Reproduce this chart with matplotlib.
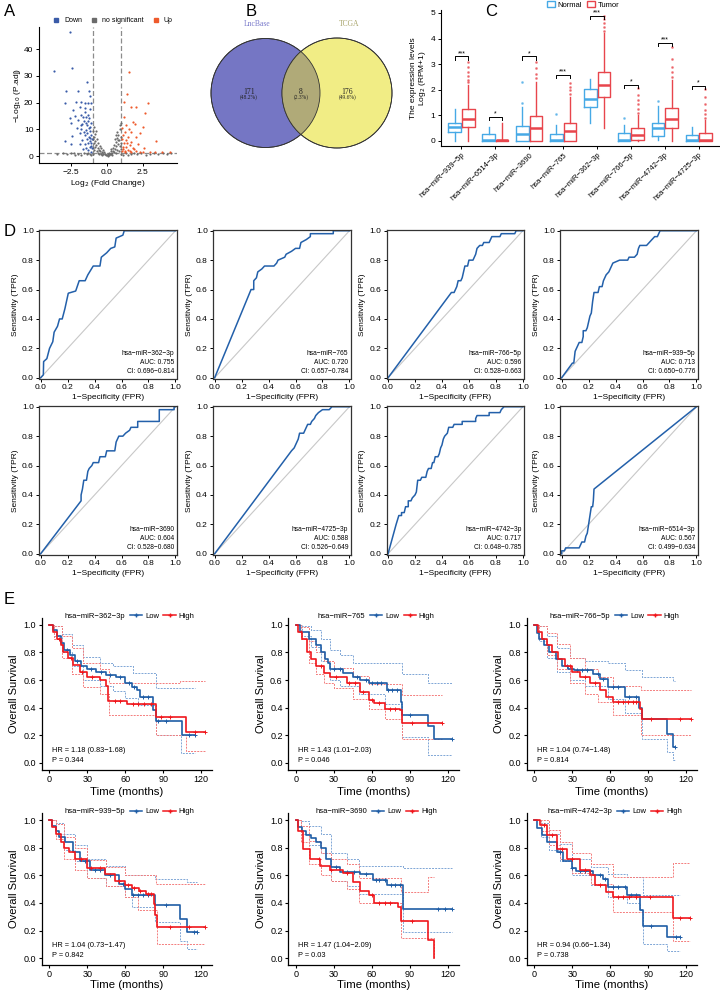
import numpy as np
import matplotlib
matplotlib.use('Agg')
import matplotlib.pyplot as plt
from matplotlib.patches import Circle, Patch
from matplotlib.lines import Line2D

plt.rcParams['font.family'] = ['Liberation Sans', 'DejaVu Sans']
plt.rcParams['axes.unicode_minus'] = True

W, H = 720, 992
fig = plt.figure(figsize=(7.2, 9.92), dpi=100)


def add_ax(left, top, width, height):
    return fig.add_axes([left / W, 1 - (top + height) / H, width / W, height / H])


def panel_label(x, y, s):
    fig.text(x / W, 1 - y / H, s, fontsize=12, ha='left', va='center')

# ---------------- Panel A data (volcano) ----------------
down_points = [(-2.56, 46.4), (-3.70, 32.0), (-2.47, 32.9), (-2.84, 24.5), (-2.02, 24.5), (-1.40, 27.9),
               (-1.26, 24.5), (-1.16, 22.5), (-2.95, 19.8), (-2.14, 20.4), (-1.79, 20.4), (-1.56, 19.8),
               (-1.33, 19.8), (-1.10, 19.8), (-2.37, 17.3), (-1.91, 18.5), (-1.56, 17.9), (-1.21, 17.5),
               (-2.26, 15.0), (-1.79, 15.4), (-1.44, 14.8), (-2.60, 14.1), (-1.26, 14.1), (-2.02, 13.5),
               (-1.63, 13.3), (-2.53, 12.3), (-1.72, 12.0), (-1.40, 11.6), (-1.10, 12.3), (-2.09, 10.4),
               (-1.79, 10.0), (-1.49, 9.8), (-1.21, 9.5), (-2.42, 7.5), (-1.91, 8.5), (-1.56, 7.9),
               (-1.26, 7.3), (-1.72, 6.0), (-1.40, 6.3), (-2.95, 5.6), (-1.91, 4.5), (-1.56, 4.5),
               (-1.33, 4.75), (-1.10, 5.0), (-2.53, 4.4), (-1.21, 3.5), (-1.49, 3.1), (-1.02, 2.9),
               (-1.33, 2.25), (-1.67, 2.5), (-1.10, 1.6), (-1.50, 16.5), (-1.30, 13.0), (-1.15, 11.0),
               (-1.40, 8.8), (-1.20, 6.8), (-1.05, 6.5), (-1.80, 11.5), (-1.60, 9.0), (-1.12, 3.8),
               (-1.35, 15.5), (-1.25, 10.5), (-1.65, 14.5), (-1.45, 12.5), (-1.08, 8.0), (-1.18, 5.6)]
up_points = [(1.51, 31.6), (1.42, 23.1), (1.16, 20.4), (1.65, 18.5), (2.00, 18.3), (2.88, 20.0),
             (2.63, 16.0), (1.16, 14.5), (1.81, 12.9), (1.30, 11.6), (1.93, 12.0), (1.07, 10.4),
             (1.53, 10.0), (2.51, 10.8), (1.23, 9.1), (1.70, 8.9), (2.28, 8.5), (1.12, 7.9),
             (1.47, 7.25), (2.05, 7.0), (1.30, 6.0), (1.70, 5.4), (1.16, 4.75), (1.58, 4.1),
             (2.16, 4.5), (3.44, 5.75), (1.35, 3.5), (1.81, 3.1), (1.12, 2.6), (1.47, 2.25),
             (2.05, 2.0), (2.51, 1.6), (2.98, 1.6), (3.33, 1.5), (3.86, 1.6), (4.42, 1.5),
             (1.23, 1.6), (1.70, 1.6), (1.05, 6.5), (1.10, 3.3), (1.25, 2.0), (1.40, 5.0),
             (1.90, 2.6), (2.60, 2.9), (1.02, 1.8), (1.60, 1.9), (2.30, 1.7)]
ns_points = [(-0.95, 9.5), (-0.90, 7.2), (-0.85, 5.5), (-0.80, 8.1), (-0.75, 4.2), (-0.70, 6.3),
             (-0.65, 3.1), (-0.60, 5.0), (-0.55, 2.4), (-0.50, 3.8), (-0.45, 1.9), (-0.40, 2.9),
             (-0.35, 1.5), (-0.30, 2.2), (-0.25, 0.9), (-0.20, 1.4), (-0.15, 0.6), (-0.10, 0.9),
             (-0.05, 0.3), (0.00, 0.5), (0.05, 0.2), (0.10, 0.8), (0.15, 1.2), (0.20, 0.6),
             (0.25, 1.8), (0.30, 2.5), (0.35, 1.1), (0.40, 3.2), (0.45, 2.0), (0.50, 4.1),
             (0.55, 2.8), (0.60, 5.2), (0.65, 3.6), (0.70, 6.8), (0.75, 4.5), (0.80, 8.0),
             (0.85, 5.9), (0.90, 10.2), (0.95, 7.1), (0.92, 11.8), (0.70, 9.0), (0.55, 6.5),
             (-0.90, 11.0), (-0.75, 9.3), (-0.98, 3.0), (-0.88, 2.2), (-0.62, 1.3), (-0.42, 0.7),
             (0.38, 0.4), (0.62, 1.0), (0.82, 1.9), (0.95, 2.7), (-0.97, 6.2), (-0.92, 4.8),
             (-0.82, 3.4), (-0.68, 2.0), (-0.58, 0.9), (-0.33, 0.4), (0.12, 0.3), (0.28, 0.9),
             (0.48, 1.5), (0.72, 2.3), (0.88, 3.9), (0.97, 5.0), (0.78, 6.0), (0.65, 7.8),
             (-3.50, 0.9), (-3.10, 1.1), (-2.80, 0.7), (-2.50, 1.0), (-2.20, 0.5), (-2.00, 0.9),
             (-1.80, 0.3), (-1.60, 1.1), (-1.40, 0.6), (-1.20, 0.9), (-1.10, 0.4), (1.10, 0.5),
             (1.30, 1.0), (1.50, 0.3), (1.70, 0.8), (1.90, 1.1), (2.10, 0.6), (2.40, 1.0),
             (2.70, 0.4), (3.00, 0.9), (3.30, 1.1), (3.60, 0.7), (3.90, 1.0), (4.20, 0.8),
             (4.50, 1.1), (-1.30, 1.2), (-2.30, 1.2), (-1.00, 0.7), (1.00, 0.9), (0.99, 12.5)]

# ---------------- Panel B data (Venn) ----------------
venn_names = ["LncBase", "TCGA"]
venn_only_left = 171
venn_both = 8
venn_only_right = 176

# ---------------- Panel C data (boxplots) ----------------
mirnas_c = ["hsa−miR−939−5p", "hsa−miR−6514−3p", "hsa−miR−3690", "hsa−miR−765",
            "hsa−miR−362−3p", "hsa−miR−766−5p", "hsa−miR−4742−3p", "hsa−miR−4725−3p"]
normal_q1 = [0.36, 0.00, 0.00, 0.00, 1.34, 0.00, 0.20, 0.00]
normal_med = [0.56, 0.03, 0.27, 0.02, 1.63, 0.03, 0.50, 0.02]
normal_q3 = [0.69, 0.26, 0.60, 0.26, 2.02, 0.30, 0.72, 0.23]
normal_lo = [0.00, 0.00, 0.00, 0.00, 0.72, 0.00, 0.04, 0.00]
normal_hi = [1.25, 0.56, 1.34, 0.62, 2.41, 0.62, 1.37, 0.56]
normal_out = [[], [], [1.48, 2.32], [1.05], [], [0.90], [1.56], []]
tumor_q1 = [0.53, 0.00, 0.00, 0.00, 1.73, 0.02, 0.52, 0.00]
tumor_med = [0.87, 0.02, 0.50, 0.39, 2.19, 0.23, 0.86, 0.02]
tumor_q3 = [1.25, 0.04, 0.99, 0.72, 2.71, 0.50, 1.28, 0.32]
tumor_lo = [0.00, 0.00, 0.00, 0.00, 0.50, 0.00, 0.00, 0.00]
tumor_hi = [2.19, 0.70, 2.32, 1.73, 4.20, 1.00, 2.38, 0.80]
tumor_out = [[2.3, 2.4, 2.55, 2.7, 2.9, 3.1], [], [2.45, 2.6, 2.85, 3.1], [1.85, 2.0, 2.1, 2.25],
             [4.3, 4.45, 4.6, 4.75, 4.9], [1.1, 1.25, 1.45, 1.6, 1.8, 2.06],
             [2.5, 2.7, 2.9, 3.2, 3.68], [0.9, 1.05, 1.2, 1.45, 1.7, 2.02]]
sig_labels = ["***", "*", "*", "***", "***", "*", "***", "*"]
sig_heights = [3.3, 0.95, 3.3, 2.58, 4.88, 2.19, 3.84, 2.15]

# ---------------- Panel D data (ROC) ----------------
roc_names = ["hsa−miR−362−3p", "hsa−miR−765", "hsa−miR−766−5p", "hsa−miR−939−5p",
             "hsa−miR−3690", "hsa−miR−4725−3p", "hsa−miR−4742−3p", "hsa−miR−6514−3p"]
roc_auc = ["0.755", "0.720", "0.596", "0.713", "0.604", "0.588", "0.717", "0.567"]
roc_ci = ["0.696−0.814", "0.657−0.784", "0.528−0.663", "0.650−0.776",
          "0.528−0.680", "0.526−0.649", "0.648−0.785", "0.499−0.634"]
roc_fpr_362 = [0, 0.02, 0.022, 0.046, 0.066, 0.09, 0.10, 0.125, 0.14, 0.16, 0.18, 0.205, 0.26, 0.286, 0.33, 0.35, 0.39, 0.44, 0.45, 0.49, 0.52, 0.55, 0.56, 0.61, 0.62, 1.0]
roc_tpr_362 = [0, 0.02, 0.11, 0.13, 0.20, 0.245, 0.31, 0.35, 0.40, 0.40, 0.47, 0.575, 0.59, 0.66, 0.66, 0.70, 0.76, 0.76, 0.82, 0.85, 0.88, 0.89, 0.95, 0.97, 1.0, 1.0]
roc_fpr_765 = [0, 0.27, 0.29, 0.29, 0.31, 0.32, 0.35, 0.37, 0.44, 0.46, 0.47, 0.52, 0.53, 0.57, 0.60, 0.63, 0.64, 0.68, 0.71, 0.71, 0.88, 0.88, 1.0]
roc_tpr_765 = [0, 0.60, 0.60, 0.66, 0.68, 0.72, 0.74, 0.76, 0.76, 0.78, 0.80, 0.82, 0.84, 0.86, 0.88, 0.88, 0.92, 0.94, 0.96, 0.98, 0.98, 1.0, 1.0]
roc_fpr_766 = [0, 0.47, 0.49, 0.50, 0.51, 0.52, 0.54, 0.55, 0.56, 0.57, 0.59, 0.60, 0.63, 0.65, 0.66, 0.68, 0.70, 0.71, 0.75, 0.77, 0.83, 0.84, 0.94, 0.95, 1.0]
roc_tpr_766 = [0, 0.58, 0.58, 0.60, 0.62, 0.66, 0.66, 0.68, 0.72, 0.76, 0.76, 0.80, 0.80, 0.84, 0.88, 0.90, 0.90, 0.92, 0.92, 0.96, 0.96, 0.98, 0.98, 1.0, 1.0]
roc_fpr_939 = [0, 0.08, 0.09, 0.10, 0.11, 0.12, 0.13, 0.15, 0.16, 0.16, 0.18, 0.19, 0.20, 0.21, 0.22, 0.23, 0.24, 0.27, 0.28, 0.30, 0.31, 0.33, 0.35, 0.37, 0.38, 0.43, 0.49, 0.50, 0.54, 0.56, 0.57, 0.58, 0.63, 0.65, 0.67, 0.69, 0.71, 0.73, 1.0]
roc_tpr_939 = [0, 0.10, 0.10, 0.18, 0.20, 0.22, 0.24, 0.24, 0.28, 0.32, 0.32, 0.34, 0.38, 0.42, 0.44, 0.52, 0.58, 0.58, 0.62, 0.62, 0.66, 0.70, 0.72, 0.76, 0.78, 0.80, 0.80, 0.82, 0.82, 0.84, 0.88, 0.90, 0.90, 0.92, 0.94, 0.96, 0.96, 1.0, 1.0]
roc_fpr_3690 = [0, 0.30, 0.30, 0.31, 0.32, 0.34, 0.35, 0.36, 0.38, 0.39, 0.43, 0.44, 0.48, 0.49, 0.55, 0.56, 0.58, 0.61, 0.63, 0.66, 0.67, 0.72, 0.72, 0.88, 0.88, 0.99, 0.99, 1.0]
roc_tpr_3690 = [0, 0.36, 0.40, 0.44, 0.50, 0.50, 0.56, 0.58, 0.60, 0.62, 0.62, 0.66, 0.66, 0.70, 0.70, 0.76, 0.80, 0.80, 0.82, 0.84, 0.86, 0.86, 0.90, 0.90, 0.98, 0.98, 1.0, 1.0]
roc_fpr_4725 = [0, 0.57, 0.59, 0.60, 0.61, 0.62, 0.63, 0.66, 0.67, 0.69, 0.71, 0.72, 0.74, 0.75, 0.77, 0.80, 0.85, 0.87, 1.0]
roc_tpr_4725 = [0, 0.70, 0.72, 0.74, 0.76, 0.78, 0.82, 0.82, 0.84, 0.88, 0.88, 0.90, 0.92, 0.94, 0.96, 0.98, 0.98, 1.0, 1.0]
roc_fpr_4742 = [0, 0.03, 0.06, 0.08, 0.10, 0.10, 0.12, 0.13, 0.15, 0.15, 0.17, 0.18, 0.20, 0.21, 0.22, 0.24, 0.25, 0.28, 0.29, 0.30, 0.32, 0.33, 0.34, 0.35, 0.37, 0.38, 0.39, 0.40, 0.41, 0.42, 0.44, 0.45, 0.48, 0.49, 0.55, 0.55, 0.65, 0.65, 0.66, 0.75, 0.75, 0.83, 0.84, 0.86, 1.0]
roc_tpr_4742 = [0, 0.10, 0.20, 0.26, 0.26, 0.28, 0.28, 0.32, 0.32, 0.36, 0.36, 0.38, 0.40, 0.42, 0.50, 0.50, 0.52, 0.52, 0.56, 0.58, 0.58, 0.62, 0.62, 0.66, 0.66, 0.68, 0.72, 0.74, 0.78, 0.80, 0.82, 0.86, 0.86, 0.88, 0.88, 0.90, 0.90, 0.92, 0.94, 0.94, 0.96, 0.96, 0.98, 1.0, 1.0]
roc_fpr_6514 = [0, 0, 0.02, 0.03, 0.13, 0.14, 0.15, 0.17, 0.18, 0.19, 0.20, 0.21, 0.22, 0.23, 0.235, 0.24, 1.0]
roc_tpr_6514 = [0, 0.02, 0.02, 0.04, 0.04, 0.06, 0.08, 0.08, 0.12, 0.14, 0.20, 0.26, 0.32, 0.32, 0.36, 0.44, 1.0]

# ---------------- Panel E data (Kaplan-Meier) ----------------
km_names = ["hsa−miR−362−3p", "hsa−miR−765", "hsa−miR−766−5p",
            "hsa−miR−939−5p", "hsa−miR−3690", "hsa−miR−4742−3p"]
km_hr = ["HR = 1.18 (0.83−1.68)", "HR = 1.43 (1.01−2.03)", "HR = 1.04 (0.74−1.48)",
         "HR = 1.04 (0.73−1.47)", "HR = 1.47 (1.04−2.09)", "HR = 0.94 (0.66−1.34)"]
km_p = ["P = 0.344", "P = 0.046", "P = 0.814", "P = 0.842", "P = 0.03", "P = 0.738"]

# 362-3p
km362_low_t = [0, 3, 6, 9, 12, 16, 20, 25, 30, 37, 45, 53, 60, 65, 69, 72, 82, 84, 104.5]
km362_low_s = [1.0, 0.96, 0.92, 0.87, 0.82, 0.78, 0.74, 0.70, 0.68, 0.66, 0.635, 0.62, 0.575, 0.55, 0.527, 0.478, 0.38, 0.305, 0.2]
km362_low_end = 115
km362_high_t = [0, 3, 6, 9, 11, 15, 19, 24, 29.5, 40, 45, 46.6, 61, 84.5, 108]
km362_high_s = [1.0, 0.95, 0.9, 0.85, 0.80, 0.76, 0.71, 0.66, 0.62, 0.60, 0.56, 0.45, 0.425, 0.335, 0.225]
km362_high_end = 123
km362_low_up_t = [0, 4, 10, 18, 27, 40, 50, 66, 84]
km362_low_up_s = [1.0, 0.99, 0.93, 0.85, 0.77, 0.72, 0.70, 0.65, 0.54]
km362_low_lo_t = [0, 4, 10, 18, 27, 40, 50, 60, 70, 84, 104]
km362_low_lo_s = [1.0, 0.92, 0.80, 0.70, 0.60, 0.56, 0.52, 0.47, 0.42, 0.2, 0.075]
km362_high_up_t = [0, 4, 10, 18, 27, 40, 47, 56, 103]
km362_high_up_s = [1.0, 0.99, 0.92, 0.83, 0.72, 0.68, 0.58, 0.575, 0.59]
km362_high_lo_t = [0, 4, 10, 18, 27, 40, 47, 84, 108]
km362_high_lo_s = [1.0, 0.90, 0.76, 0.64, 0.55, 0.50, 0.345, 0.2, 0.09]
km362_low_cens = [14, 22, 33, 41, 48, 56, 63, 67, 74, 78, 86, 92, 110, 115]
km362_high_cens = [8, 17, 26, 34, 52, 56, 66, 70, 75, 80, 88, 95, 115, 123]

# 765
km765_low_t = [0, 3, 10, 16, 20, 23, 25, 27, 37, 45, 50.5, 58, 71.6, 82.6, 84, 104.5, 109]
km765_low_s = [1.0, 0.95, 0.9, 0.85, 0.8, 0.75, 0.72, 0.68, 0.65, 0.62, 0.6, 0.575, 0.53, 0.44, 0.35, 0.265, 0.176]
km765_low_end = 123
km765_high_t = [0, 2, 5, 9, 12, 16, 22, 27, 40, 50.5, 58, 62, 70, 82, 83.4]
km765_high_s = [1.0, 0.95, 0.9, 0.8, 0.75, 0.7, 0.65, 0.62, 0.575, 0.515, 0.455, 0.435, 0.39, 0.38, 0.29]
km765_high_end = 115
km765_low_up_t = [0, 5, 12, 20, 27, 35, 45, 84, 104.5]
km765_low_up_s = [1.0, 0.99, 0.96, 0.9, 0.82, 0.78, 0.72, 0.647, 0.575]
km765_low_lo_t = [0, 5, 12, 20, 27, 35, 50, 70, 84, 104.5]
km765_low_lo_s = [1.0, 0.92, 0.84, 0.74, 0.60, 0.56, 0.50, 0.43, 0.19, 0.055]
km765_high_up_t = [0, 4, 10, 16, 22, 30, 45, 58, 84]
km765_high_up_s = [1.0, 0.98, 0.88, 0.80, 0.74, 0.69, 0.63, 0.57, 0.49]
km765_high_lo_t = [0, 4, 10, 16, 22, 30, 45, 58, 70, 84]
km765_high_lo_s = [1.0, 0.90, 0.72, 0.64, 0.58, 0.54, 0.46, 0.39, 0.32, 0.17]
km765_low_cens = [30, 35, 48, 55, 60, 64, 67, 73, 76, 80, 90, 123]
km765_high_cens = [20, 32, 42, 47, 53, 60, 66, 74, 78, 92, 115]

# 766-5p
km766_low_t = [0, 2, 4, 8, 12, 17, 22, 27, 31, 46.6, 52, 58, 71.6, 83, 84.7, 104.5, 109.7]
km766_low_s = [1.0, 0.94, 0.9, 0.85, 0.8, 0.75, 0.7, 0.68, 0.67, 0.647, 0.61, 0.55, 0.478, 0.4, 0.32, 0.21, 0.116]
km766_low_end = 111
km766_high_t = [0, 3, 6, 10, 14, 19, 24, 30, 36, 44, 52, 57, 62, 83.4, 85]
km766_high_s = [1.0, 0.95, 0.9, 0.85, 0.8, 0.75, 0.7, 0.66, 0.62, 0.575, 0.527, 0.478, 0.44, 0.39, 0.32]
km766_high_end = 124
km766_low_up_t = [0, 4, 10, 18, 28, 40, 58, 71.6, 84.7, 109.7]
km766_low_up_s = [1.0, 0.99, 0.92, 0.83, 0.76, 0.74, 0.72, 0.67, 0.62, 0.59]
km766_low_lo_t = [0, 4, 10, 18, 28, 40, 58, 71.6, 84.7, 104.5, 109.7]
km766_low_lo_s = [1.0, 0.88, 0.76, 0.66, 0.60, 0.56, 0.46, 0.36, 0.176, 0.08, 0.02]
km766_high_up_t = [0, 4, 10, 18, 28, 40, 50, 62, 84]
km766_high_up_s = [1.0, 0.99, 0.94, 0.86, 0.76, 0.68, 0.62, 0.56, 0.53]
km766_high_lo_t = [0, 4, 10, 18, 28, 40, 50, 62, 84]
km766_high_lo_s = [1.0, 0.90, 0.78, 0.68, 0.58, 0.50, 0.44, 0.345, 0.2]
km766_low_cens = [26, 34, 38, 42, 50, 54, 62, 66, 75, 80, 111]
km766_high_cens = [28, 40, 48, 66, 70, 74, 78, 80, 92, 115, 124]

# 939-5p
km939_low_t = [0, 2, 5, 8, 12.6, 19, 24.5, 32, 44, 55, 60, 65, 83.7, 103.4, 108.7]
km939_low_s = [1.0, 0.96, 0.92, 0.88, 0.84, 0.77, 0.70, 0.637, 0.60, 0.54, 0.50, 0.46, 0.383, 0.286, 0.19]
km939_low_end = 116.6
km939_high_t = [0, 2, 5, 9, 12, 15.3, 20.5, 30, 44, 52, 60, 65, 70.5, 76, 82.4, 83.7, 85]
km939_high_s = [1.0, 0.95, 0.9, 0.84, 0.80, 0.77, 0.72, 0.65, 0.61, 0.56, 0.53, 0.51, 0.49, 0.467, 0.395, 0.31, 0.225]
km939_high_end = 123
km939_low_up_t = [0, 5, 12, 20, 30, 45, 60, 83.7, 108.7]
km939_low_up_s = [1.0, 0.98, 0.90, 0.82, 0.72, 0.67, 0.60, 0.576, 0.55]
km939_low_lo_t = [0, 5, 12, 20, 30, 45, 60, 65, 83.7, 103.4, 108.7]
km939_low_lo_s = [1.0, 0.90, 0.78, 0.70, 0.58, 0.52, 0.44, 0.37, 0.26, 0.128, 0.068]
km939_high_up_t = [0, 5, 12, 20, 30, 45, 60, 84]
km939_high_up_s = [1.0, 0.97, 0.88, 0.80, 0.71, 0.66, 0.60, 0.54]
km939_high_lo_t = [0, 5, 12, 20, 30, 45, 60, 70, 85]
km939_high_lo_s = [1.0, 0.86, 0.72, 0.64, 0.58, 0.52, 0.44, 0.346, 0.104]
km939_low_cens = [28, 36, 40, 48, 58, 66, 70, 74, 78, 92, 114, 116.6]
km939_high_cens = [25, 33, 40, 55, 62, 67, 72, 78, 80, 95, 110, 123]

# 3690
km3690_low_t = [0, 2, 5, 8, 12, 16, 20, 24, 28, 35, 50.5, 61, 71.6, 84.7]
km3690_low_s = [1.0, 0.95, 0.92, 0.89, 0.87, 0.84, 0.80, 0.72, 0.66, 0.625, 0.61, 0.564, 0.53, 0.354]
km3690_low_end = 123
km3690_high_t = [0, 2, 5.8, 11, 19, 27, 37, 45, 50.5, 58, 62, 80.8, 83, 104.5, 109]
km3690_high_s = [1.0, 0.92, 0.79, 0.72, 0.67, 0.637, 0.62, 0.55, 0.49, 0.455, 0.40, 0.37, 0.266, 0.133, 0.0]
km3690_high_end = 109
km3690_low_up_t = [0, 4, 10, 20, 28, 40, 50, 84.7]
km3690_low_up_s = [1.0, 0.99, 0.96, 0.90, 0.76, 0.72, 0.67, 0.656]
km3690_low_lo_t = [0, 4, 10, 20, 28, 40, 50, 84.7]
km3690_low_lo_s = [1.0, 0.90, 0.82, 0.76, 0.56, 0.52, 0.467, 0.19]
km3690_high_up_t = [0, 4, 10, 20, 28, 40, 50, 83, 104.5]
km3690_high_up_s = [1.0, 0.96, 0.85, 0.76, 0.72, 0.68, 0.58, 0.48, 0.59]
km3690_high_lo_t = [0, 4, 10, 20, 28, 40, 50, 83, 109]
km3690_high_lo_s = [1.0, 0.84, 0.68, 0.60, 0.56, 0.50, 0.40, 0.15, 0.0]
km3690_low_cens = [32, 40, 46, 55, 63, 66, 70, 75, 78, 82, 112, 118, 123]
km3690_high_cens = [18, 28, 40, 60, 66, 70, 74, 92]

# 4742-3p
km4742_low_t = [0, 2, 6, 10, 17.6, 23, 29.5, 33, 46.6, 54.5, 58, 73, 83.4, 86, 104.5]
km4742_low_s = [1.0, 0.94, 0.89, 0.84, 0.77, 0.70, 0.65, 0.63, 0.60, 0.576, 0.515, 0.46, 0.346, 0.232, 0.153]
km4742_low_end = 115
km4742_high_t = [0, 4.5, 10, 17.6, 25.5, 36, 44, 48, 57, 62, 109.7]
km4742_high_s = [1.0, 0.964, 0.89, 0.79, 0.72, 0.637, 0.605, 0.53, 0.48, 0.443, 0.293]
km4742_high_end = 123
km4742_low_up_t = [0, 5, 12, 20, 30, 45, 58, 73, 86]
km4742_low_up_s = [1.0, 0.98, 0.90, 0.83, 0.72, 0.66, 0.61, 0.59, 0.455]
km4742_low_lo_t = [0, 5, 12, 20, 30, 45, 58, 73, 83.4, 86, 104.5]
km4742_low_lo_s = [1.0, 0.88, 0.78, 0.70, 0.60, 0.53, 0.44, 0.40, 0.346, 0.104, 0.056]
km4742_high_up_t = [0, 5, 12, 20, 30, 45, 62, 109.7]
km4742_high_up_s = [1.0, 1.0, 0.93, 0.84, 0.76, 0.68, 0.59, 0.69]
km4742_high_lo_t = [0, 5, 12, 20, 30, 45, 62, 109.7]
km4742_high_lo_s = [1.0, 0.92, 0.82, 0.72, 0.62, 0.54, 0.334, 0.128]
km4742_low_cens = [20, 30, 36, 40, 44, 52, 56, 62, 66, 72, 76, 80, 92, 112, 115]
km4742_high_cens = [8, 14, 22, 30, 40, 52, 66, 70, 75, 80, 91, 115, 123]

# ======================= DRAWING =======================
BLUE_A, GREY_A, RED_A = "#3A5BA8", "#6B6B6B", "#EE5A2C"

# ---------- Panel A ----------
panel_label(4, 12, "A")
axA = add_ax(39, 27, 138, 136)
for pts, col in [(ns_points, GREY_A), (down_points, BLUE_A), (up_points, RED_A)]:
    arr = np.array(pts)
    axA.scatter(arr[:, 0], arr[:, 1], s=2.5, color=col, linewidths=0, zorder=3)
for xv in (-1, 1):
    axA.axvline(xv, color="#8C8C8C", lw=0.9, dashes=(4, 2), zorder=2)
axA.axhline(-np.log10(0.05), color="#8C8C8C", lw=0.9, dashes=(4, 2), zorder=2)
axA.set_xlim(-4.75, 4.9)
axA.set_ylim(-2.6, 48.3)
axA.set_xticks([-2.5, 0, 2.5])
axA.set_xticklabels(["−2.5", "0.0", "2.5"])
axA.set_yticks([0, 10, 20, 30, 40])
for s in ("top", "right"):
    axA.spines[s].set_visible(False)
for s in ("left", "bottom"):
    axA.spines[s].set_linewidth(0.8)
axA.tick_params(labelsize=6, length=2.5, width=0.7, pad=1.5)
axA.set_xlabel("Log$_2$ (Fold Change)", fontsize=6, labelpad=2)
axA.set_ylabel("−Log$_{10}$ (P.adj)", fontsize=6, labelpad=1)
legA = [Line2D([], [], marker='s', ls='', color=c, markersize=3.5) for c in (BLUE_A, GREY_A, RED_A)]
fig.legend(legA, ["Down", "no significant", "Up"], loc='center', bbox_to_anchor=(111 / W, 1 - 21 / H),
           ncol=3, frameon=False, fontsize=5, handletextpad=0.1, columnspacing=0.8, borderpad=0)

# ---------- Panel B ----------
panel_label(246, 12, "B")
axB = add_ax(200, 10, 210, 160)
axB.set_xlim(200, 410)
axB.set_ylim(170, 10)
axB.set_aspect('equal')
axB.axis('off')
cL = Circle((265.5, 93), 54.5, facecolor="#7576C4", edgecolor="#333333", lw=0.6, zorder=1)
cR = Circle((337, 93), 55, facecolor="#F1ED85", edgecolor="#333333", lw=0.6, zorder=1)
axB.add_patch(cL)
axB.add_patch(cR)
cI = Circle((337, 93), 55, facecolor="#B0AA78", edgecolor="none", zorder=2)
axB.add_patch(cI)
cI.set_clip_path(cL)
axB.add_patch(Circle((265.5, 93), 54.5, facecolor="none", edgecolor="#333333", lw=0.6, zorder=3))
axB.add_patch(Circle((337, 93), 55, facecolor="none", edgecolor="#333333", lw=0.6, zorder=3))
total = venn_only_left + venn_both + venn_only_right
serif = ['Liberation Serif', 'DejaVu Serif']
for xv, n in [(249, venn_only_left), (301, venn_both), (347.5, venn_only_right)]:
    axB.text(xv, 92, str(n), ha='center', va='center', fontsize=5.5, family=serif, color="#222222", zorder=4)
    axB.text(xv, 97.5, "(%.1f%%)" % (100 * n / total), ha='center', va='center', fontsize=4,
             family=serif, color="#222222", zorder=4)
axB.text(257, 24, venn_names[0], ha='center', va='center', fontsize=5.5, family=serif, color="#7A7ACB")
axB.text(349, 24, venn_names[1], ha='center', va='center', fontsize=5.5, family=serif, color="#A8A46A")

# ---------- Panel C ----------
panel_label(485, 12, "C")
axC = add_ax(441, 10.4, 278, 135.7)
NCOL, TCOL = "#46A9E6", "#E8454C"
pos = np.arange(1, len(mirnas_c) + 1)
nstats = [dict(med=normal_med[i], q1=normal_q1[i], q3=normal_q3[i], whislo=normal_lo[i],
               whishi=normal_hi[i], fliers=normal_out[i]) for i in range(len(mirnas_c))]
tstats = [dict(med=tumor_med[i], q1=tumor_q1[i], q3=tumor_q3[i], whislo=tumor_lo[i],
               whishi=tumor_hi[i], fliers=tumor_out[i]) for i in range(len(mirnas_c))]
for stats, off, col in [(nstats, -0.2, NCOL), (tstats, 0.2, TCOL)]:
    axC.bxp(stats, positions=pos + off, widths=0.37, showcaps=False,
            boxprops=dict(color=col, lw=1.0), whiskerprops=dict(color=col, lw=1.0),
            medianprops=dict(color=col, lw=1.8),
            flierprops=dict(marker='o', markersize=1.0, markerfacecolor=col, markeredgecolor=col, alpha=0.6))
for i in range(len(mirnas_c)):
    h = sig_heights[i]
    axC.plot([pos[i] - 0.2, pos[i] - 0.2, pos[i] + 0.2, pos[i] + 0.2], [h - 0.12, h, h, h - 0.12],
             color="black", lw=0.7)
    axC.text(pos[i], h - 0.02, sig_labels[i], ha='center', va='bottom', fontsize=5)
axC.set_xlim(0.395, 8.6)
axC.set_ylim(-0.2, 5.1)
axC.set_yticks([0, 1, 2, 3, 4, 5])
axC.set_xticks(pos)
axC.set_xticklabels(mirnas_c, rotation=45, ha='right', rotation_mode='anchor', fontsize=5.5)
for s in ("top", "right"):
    axC.spines[s].set_visible(False)
for s in ("left", "bottom"):
    axC.spines[s].set_linewidth(0.8)
axC.tick_params(axis='y', labelsize=6, length=2.5, width=0.7, pad=1.5)
axC.tick_params(axis='x', length=2.5, width=0.7, pad=1.5)
axC.set_ylabel("The expression levels\nLog$_2$ (RPM+1)", fontsize=6, labelpad=2, linespacing=1.0)
legC = [Patch(facecolor='white', edgecolor=NCOL, lw=1), Patch(facecolor='white', edgecolor=TCOL, lw=1)]
fig.legend(legC, ["Normal", "Tumor"], loc='center', bbox_to_anchor=(583 / W, 1 - 5 / H), ncol=2,
           frameon=False, fontsize=5.5, handlelength=1.0, handleheight=0.8, handletextpad=0.3,
           columnspacing=0.8, borderpad=0)

# ---------- Panel D ----------
panel_label(4, 232, "D")
roc_fpr = [roc_fpr_362, roc_fpr_765, roc_fpr_766, roc_fpr_939, roc_fpr_3690, roc_fpr_4725, roc_fpr_4742, roc_fpr_6514]
roc_tpr = [roc_tpr_362, roc_tpr_765, roc_tpr_766, roc_tpr_939, roc_tpr_3690, roc_tpr_4725, roc_tpr_4742, roc_tpr_6514]
d_lefts = [39.3, 213.3, 386.7, 560.3]
d_tops = [230, 406]
for k in range(8):
    r, c = divmod(k, 4)
    ax = add_ax(d_lefts[c], d_tops[r], 137.5, 148.5)
    ax.plot([0, 1], [0, 1], color="#C8C8C8", lw=0.8, zorder=1)
    ax.plot(roc_fpr[k], roc_tpr[k], color="#2360AA", lw=1.1, zorder=2)
    ax.set_xlim(-0.01, 1.01)
    ax.set_ylim(-0.005, 1.005)
    ticks = [0, 0.2, 0.4, 0.6, 0.8, 1.0]
    ax.set_xticks(ticks)
    ax.set_yticks(ticks)
    ax.set_xticklabels(["%.1f" % t for t in ticks])
    ax.set_yticklabels(["%.1f" % t for t in ticks])
    for s in ax.spines.values():
        s.set_linewidth(0.9)
        s.set_color("#333333")
    ax.tick_params(labelsize=6, length=2.5, width=0.7, pad=1.5)
    ax.set_xlabel("1−Specificity (FPR)", fontsize=6, labelpad=2)
    ax.set_ylabel("Sensitivity (TPR)", fontsize=6, labelpad=2)
    ax.text(0.98, 0.17, roc_names[k], ha='right', va='center', fontsize=4.8, transform=ax.transAxes)
    ax.text(0.98, 0.11, "AUC: " + roc_auc[k], ha='right', va='center', fontsize=4.8, transform=ax.transAxes)
    ax.text(0.98, 0.05, "CI: " + roc_ci[k], ha='right', va='center', fontsize=4.8, transform=ax.transAxes)

# ---------- Panel E ----------
panel_label(4, 600, "E")
KBLUE, KRED = "#1F5DA6", "#F0171C"
KBLUE_CI, KRED_CI = "#7FA6D6", "#F47C7C"


def step_val(t, s, tc):
    idx = np.searchsorted(np.asarray(t), tc, side='right') - 1
    return np.asarray(s)[idx]


def draw_step(ax, t, s, end, **kw):
    tt = list(t) + [end]
    ss = list(s) + [s[-1]]
    ax.step(tt, ss, where='post', **kw)


km_sets = [
    (km362_low_t, km362_low_s, km362_low_end, km362_high_t, km362_high_s, km362_high_end,
     km362_low_up_t, km362_low_up_s, km362_low_lo_t, km362_low_lo_s,
     km362_high_up_t, km362_high_up_s, km362_high_lo_t, km362_high_lo_s, km362_low_cens, km362_high_cens),
    (km765_low_t, km765_low_s, km765_low_end, km765_high_t, km765_high_s, km765_high_end,
     km765_low_up_t, km765_low_up_s, km765_low_lo_t, km765_low_lo_s,
     km765_high_up_t, km765_high_up_s, km765_high_lo_t, km765_high_lo_s, km765_low_cens, km765_high_cens),
    (km766_low_t, km766_low_s, km766_low_end, km766_high_t, km766_high_s, km766_high_end,
     km766_low_up_t, km766_low_up_s, km766_low_lo_t, km766_low_lo_s,
     km766_high_up_t, km766_high_up_s, km766_high_lo_t, km766_high_lo_s, km766_low_cens, km766_high_cens),
    (km939_low_t, km939_low_s, km939_low_end, km939_high_t, km939_high_s, km939_high_end,
     km939_low_up_t, km939_low_up_s, km939_low_lo_t, km939_low_lo_s,
     km939_high_up_t, km939_high_up_s, km939_high_lo_t, km939_high_lo_s, km939_low_cens, km939_high_cens),
    (km3690_low_t, km3690_low_s, km3690_low_end, km3690_high_t, km3690_high_s, km3690_high_end,
     km3690_low_up_t, km3690_low_up_s, km3690_low_lo_t, km3690_low_lo_s,
     km3690_high_up_t, km3690_high_up_s, km3690_high_lo_t, km3690_high_lo_s, km3690_low_cens, km3690_high_cens),
    (km4742_low_t, km4742_low_s, km4742_low_end, km4742_high_t, km4742_high_s, km4742_high_end,
     km4742_low_up_t, km4742_low_up_s, km4742_low_lo_t, km4742_low_lo_s,
     km4742_high_up_t, km4742_high_up_s, km4742_high_lo_t, km4742_high_lo_s, km4742_low_cens, km4742_high_cens),
]
e_lefts = [41.7, 288.3, 526.7]
e_tops = [617.8, 813.1]
e_h = 151.8
e_label_y = [791.7, 985.5]
for k in range(6):
    r, c = divmod(k, 3)
    (lt, ls_, le, ht, hs, he, lut, lus, llt, lls, hut, hus, hlt, hls, lc, hc) = km_sets[k]
    ax = add_ax(e_lefts[c], e_tops[r], 170.6, e_h)
    ci_kw = dict(lw=0.7, linestyle=(0, (2, 1.2)))
    draw_step(ax, lut, lus, le, color=KBLUE_CI, **ci_kw)
    draw_step(ax, llt, lls, le, color=KBLUE_CI, **ci_kw)
    draw_step(ax, hut, hus, he, color=KRED_CI, **ci_kw)
    draw_step(ax, hlt, hls, he, color=KRED_CI, **ci_kw)
    draw_step(ax, lt, ls_, le, color=KBLUE, lw=1.2, zorder=3)
    draw_step(ax, ht, hs, he, color=KRED, lw=1.2, zorder=4)
    ax.plot(lc, [step_val(lt, ls_, t) for t in lc], ls='', marker='+', ms=3, mew=0.7, color=KBLUE, zorder=3)
    ax.plot(hc, [step_val(ht, hs, t) for t in hc], ls='', marker='+', ms=3, mew=0.7, color=KRED, zorder=4)
    ax.set_xlim(-6, 128.7)
    ax.set_ylim(-0.048, 1.05)
    ax.set_xticks([0, 30, 60, 90, 120])
    ax.set_yticks([0, 0.2, 0.4, 0.6, 0.8, 1.0])
    ax.set_yticklabels(["%.1f" % t for t in [0, 0.2, 0.4, 0.6, 0.8, 1.0]])
    for s in ("top", "right"):
        ax.spines[s].set_visible(False)
    for s in ("left", "bottom"):
        ax.spines[s].set_linewidth(0.9)
    ax.tick_params(labelsize=6.5, length=2.5, width=0.8, pad=1.5)
    ax.set_xlabel("Time (months)", fontsize=8.2)
    bottom_px = e_tops[r] + e_h
    ax.xaxis.set_label_coords(0.5, -(e_label_y[r] - bottom_px) / e_h)
    ax.xaxis.label.set_verticalalignment('center')
    ax.set_ylabel("Overall Survival", fontsize=8, labelpad=3)
    ax.text(2, 0.09, km_hr[k], fontsize=5.3, ha='left', va='center')
    ax.text(2, 0.02, km_p[k], fontsize=5.3, ha='left', va='center')
    handles = [Line2D([], [], alpha=0), Line2D([], [], color=KBLUE, marker='+', ms=3.5, lw=1.1),
               Line2D([], [], color=KRED, marker='+', ms=3.5, lw=1.1)]
    ax.legend(handles, [km_names[k], "Low", "High"], loc='lower center', bbox_to_anchor=(0.47, 0.985),
              ncol=3, frameon=False, fontsize=5.5, handlelength=1.6, handletextpad=0.4,
              columnspacing=0.6, borderpad=0, borderaxespad=0)

fig.savefig("out.png", dpi=100)
